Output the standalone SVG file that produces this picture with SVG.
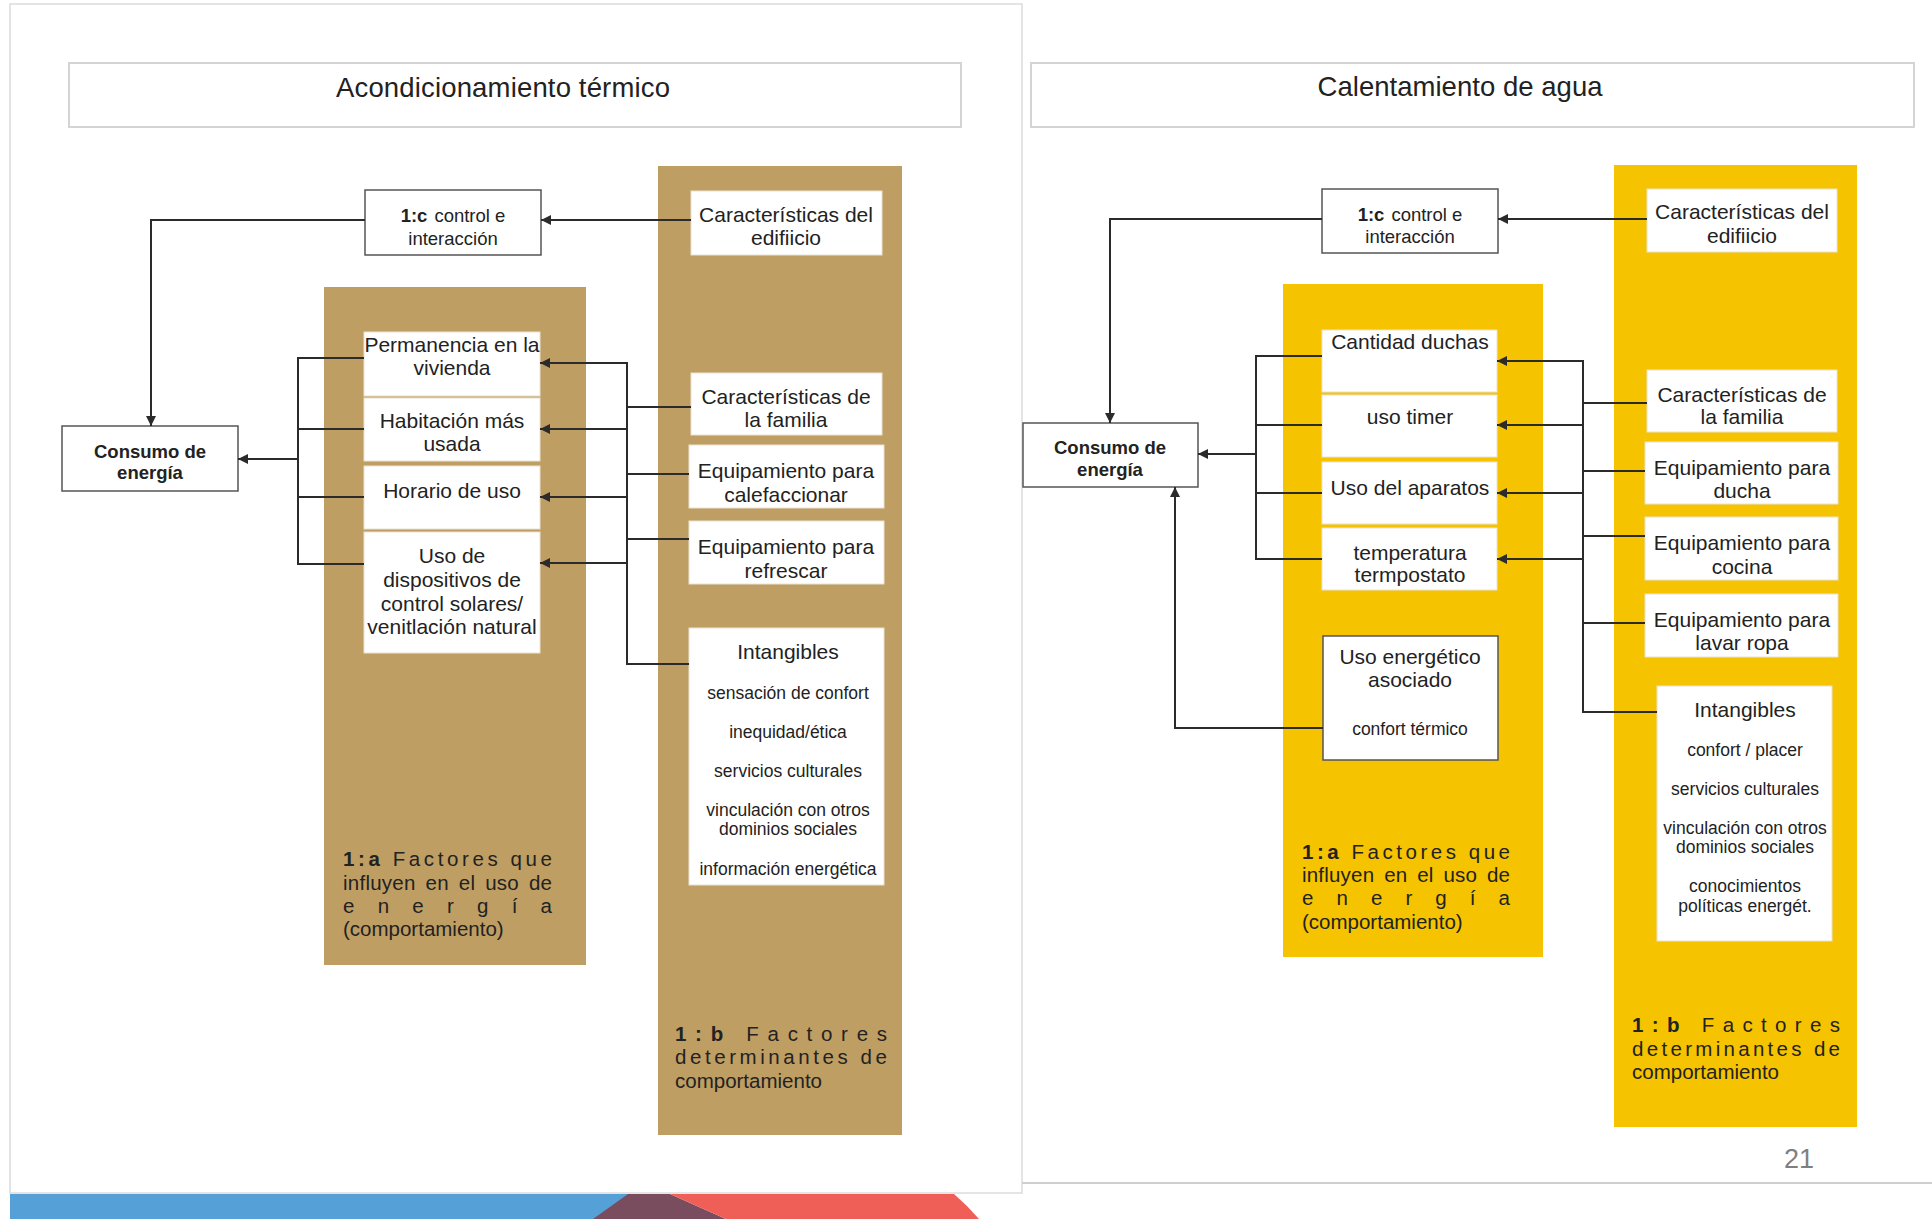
<svg xmlns="http://www.w3.org/2000/svg" width="1932" height="1219" viewBox="0 0 1932 1219">
<style>
.t{font-family:"Liberation Sans",Arial,sans-serif;font-size:21px;fill:#222;text-anchor:middle}
.s{font-size:17.5px}
.b{font-weight:bold;font-size:18.5px}
.ttl{font-size:27.5px}
.j{font-family:"Liberation Sans",Arial,sans-serif;font-size:20.5px;fill:#222;text-anchor:start}
.ib{fill:#fff;stroke:#e9e2d2;stroke-width:1}
.ob{fill:#fff;stroke:#555;stroke-width:1.5}
.hb{fill:#fff;stroke:#d4d4d4;stroke-width:2}
.tan{fill:#BF9E63}
.yel{fill:#F5C300}
.c{fill:none;stroke:#2b2b2b;stroke-width:2}
</style>
<defs>
<marker id="ah" markerUnits="userSpaceOnUse" markerWidth="10" markerHeight="10" refX="10" refY="5" orient="auto">
<path d="M0,0 L10,5 L0,10 z" fill="#2b2b2b"/>
</marker>
</defs>
<rect x="0" y="0" width="1932" height="1219" fill="#fff"/>
<g id="frame">
<rect x="10" y="4" width="1012" height="1189" fill="#fff" stroke="#dcdcdc" stroke-width="1.5"/>
<line x1="1022" y1="1183" x2="1932" y2="1183" stroke="#cfcfcf" stroke-width="2"/>
<rect x="10" y="1194" width="640" height="25" fill="#55A0D7"/>
<polygon points="628,1194 670,1194 726,1219 593,1219" fill="#7A4D5E"/>
<path d="M670,1194 L954,1194 Q968,1206 979,1219 L726,1219 z" fill="#EF5F57"/>
<text x="1799" y="1168" style="font-family:'Liberation Sans',Arial,sans-serif;font-size:27px;fill:#7f7f7f;text-anchor:middle">21</text>
</g>

<!-- LEFT PANEL -->
<g id="title-left"><rect class="hb" x="69" y="63" width="892" height="64"/><text class="t ttl" x="503" y="97" textLength="334">Acondicionamiento térmico</text></g>
<g id="col-1b-left"><rect class="tan" x="658" y="166" width="244" height="969"/>
<text class="j" x="675" y="1041" textLength="212" lengthAdjust="spacing"><tspan font-weight="bold">1:b</tspan> Factores</text>
<text class="j" x="675" y="1064" textLength="212" lengthAdjust="spacing">determinantes de</text>
<text class="j" x="675" y="1088">comportamiento</text></g>
<g id="col-1a-left"><rect class="tan" x="324" y="287" width="262" height="678"/>
<text class="j" x="343" y="866" textLength="209" lengthAdjust="spacing"><tspan font-weight="bold">1:a</tspan> Factores que</text>
<text class="j" x="343" y="890" textLength="209" lengthAdjust="spacing" word-spacing="4">influyen en el uso de</text>
<text class="j" x="343" y="913" textLength="209" lengthAdjust="spacing">energía</text>
<text class="j" x="343" y="936">(comportamiento)</text></g>
<g id="ctrl-left"><rect class="ob" x="365" y="190" width="176" height="65"/><text class="t b" x="453" y="222"><tspan>1:c</tspan><tspan font-weight="normal" dx="7">control e</tspan></text><text class="t" style="font-size:18.5px" x="453" y="245">interacción</text></g>
<g id="consumo-left"><rect class="ob" x="62" y="426" width="176" height="65"/><text class="t b" x="150" y="458">Consumo de</text><text class="t b" x="150" y="479">energía</text></g>
<g id="permanencia"><rect class="ib" x="364" y="332" width="176" height="64"/><text class="t" x="452" y="352">Permanencia en la</text><text class="t" x="452" y="375">vivienda</text></g>
<g id="habitacion"><rect class="ib" x="364" y="398" width="176" height="63"/><text class="t" x="452" y="428">Habitación más</text><text class="t" x="452" y="451">usada</text></g>
<g id="horario"><rect class="ib" x="364" y="466" width="176" height="63"/><text class="t" x="452" y="498">Horario de uso</text></g>
<g id="dispositivos"><rect class="ib" x="364" y="532" width="176" height="121"/><text class="t" x="452" y="563">Uso de</text><text class="t" x="452" y="587">dispositivos de</text><text class="t" x="452" y="611">control  solares/</text><text class="t" x="452" y="634">venitlación natural</text></g>
<g id="edificio-left"><rect class="ib" x="691" y="191" width="191" height="64"/><text class="t" x="786" y="222">Características del</text><text class="t" x="786" y="245">edifiicio</text></g>
<g id="familia-left"><rect class="ib" x="691" y="373" width="191" height="62"/><text class="t" x="786" y="404">Características de</text><text class="t" x="786" y="427">la familia</text></g>
<g id="calefaccionar"><rect class="ib" x="689" y="445" width="195" height="63"/><text class="t" x="786" y="478">Equipamiento para</text><text class="t" x="786" y="502">calefaccionar</text></g>
<g id="refrescar"><rect class="ib" x="689" y="521" width="195" height="63"/><text class="t" x="786" y="554">Equipamiento para</text><text class="t" x="786" y="578">refrescar</text></g>
<g id="intangibles-left"><rect class="ib" x="689" y="628" width="195" height="257"/><text class="t" x="788" y="659">Intangibles</text>
<text class="t s" x="788" y="699">sensación de confort</text><text class="t s" x="788" y="738">inequidad/ética</text><text class="t s" x="788" y="777">servicios culturales</text><text class="t s" x="788" y="816">vinculación con otros</text><text class="t s" x="788" y="835">dominios sociales</text><text class="t s" x="788" y="875">información energética</text></g>

<!-- RIGHT PANEL -->
<g id="title-right"><rect class="hb" x="1031" y="63" width="883" height="64"/><text class="t ttl" x="1460" y="96" textLength="285">Calentamiento de agua</text></g>
<g id="col-1b-right"><rect class="yel" x="1614" y="165" width="243" height="962"/>
<text class="j" x="1632" y="1032" textLength="208" lengthAdjust="spacing"><tspan font-weight="bold">1:b</tspan> Factores</text>
<text class="j" x="1632" y="1056" textLength="208" lengthAdjust="spacing">determinantes de</text>
<text class="j" x="1632" y="1079">comportamiento</text></g>
<g id="col-1a-right"><rect class="yel" x="1283" y="284" width="260" height="673"/>
<text class="j" x="1302" y="859" textLength="208" lengthAdjust="spacing"><tspan font-weight="bold">1:a</tspan> Factores que</text>
<text class="j" x="1302" y="882" textLength="208" lengthAdjust="spacing" word-spacing="4">influyen en el uso de</text>
<text class="j" x="1302" y="905" textLength="208" lengthAdjust="spacing">energía</text>
<text class="j" x="1302" y="929">(comportamiento)</text></g>
<g id="ctrl-right"><rect class="ob" x="1322" y="189" width="176" height="64"/><text class="t b" x="1410" y="221"><tspan>1:c</tspan><tspan font-weight="normal" dx="7">control e</tspan></text><text class="t" style="font-size:18.5px" x="1410" y="243">interacción</text></g>
<g id="consumo-right"><rect class="ob" x="1023" y="423" width="175" height="64"/><text class="t b" x="1110" y="454">Consumo de</text><text class="t b" x="1110" y="476">energía</text></g>
<g id="duchas"><rect class="ib" x="1322" y="330" width="175" height="62"/><text class="t" x="1410" y="349">Cantidad duchas</text></g>
<g id="timer"><rect class="ib" x="1322" y="395" width="175" height="62"/><text class="t" x="1410" y="424">uso timer</text></g>
<g id="aparatos"><rect class="ib" x="1322" y="462" width="175" height="62"/><text class="t" x="1410" y="495">Uso del aparatos</text></g>
<g id="termostato"><rect class="ib" x="1322" y="528" width="175" height="62"/><text class="t" x="1410" y="560">temperatura</text><text class="t" x="1410" y="582">termpostato</text></g>
<g id="uso-energetico"><rect class="ob" x="1323" y="636" width="175" height="124"/><text class="t" x="1410" y="664">Uso energético</text><text class="t" x="1410" y="687">asociado</text><text class="t s" x="1410" y="735">confort térmico</text></g>
<g id="edificio-right"><rect class="ib" x="1647" y="189" width="190" height="63"/><text class="t" x="1742" y="219">Características del</text><text class="t" x="1742" y="243">edifiicio</text></g>
<g id="familia-right"><rect class="ib" x="1647" y="370" width="190" height="62"/><text class="t" x="1742" y="402">Características de</text><text class="t" x="1742" y="424">la familia</text></g>
<g id="ducha"><rect class="ib" x="1645" y="442" width="193" height="62"/><text class="t" x="1742" y="475">Equipamiento para</text><text class="t" x="1742" y="498">ducha</text></g>
<g id="cocina"><rect class="ib" x="1645" y="517" width="193" height="63"/><text class="t" x="1742" y="550">Equipamiento para</text><text class="t" x="1742" y="574">cocina</text></g>
<g id="lavar"><rect class="ib" x="1645" y="594" width="193" height="63"/><text class="t" x="1742" y="627">Equipamiento para</text><text class="t" x="1742" y="650">lavar ropa</text></g>
<g id="intangibles-right"><rect class="ib" x="1657" y="686" width="175" height="255"/><text class="t" x="1745" y="717">Intangibles</text>
<text class="t s" x="1745" y="756">confort / placer</text><text class="t s" x="1745" y="795">servicios culturales</text><text class="t s" x="1745" y="834">vinculación con otros</text><text class="t s" x="1745" y="853">dominios sociales</text><text class="t s" x="1745" y="892">conocimientos</text><text class="t s" x="1745" y="912">políticas energét.</text></g>

<g id="connectors">
<!-- left -->
<line class="c" x1="691" y1="220" x2="541" y2="220" marker-end="url(#ah)"/>
<polyline class="c" points="365,220 151,220 151,426" marker-end="url(#ah)"/>
<line class="c" x1="298" y1="358" x2="298" y2="564"/>
<line class="c" x1="364" y1="358" x2="297" y2="358"/>
<line class="c" x1="364" y1="429" x2="298" y2="429"/>
<line class="c" x1="364" y1="497" x2="298" y2="497"/>
<line class="c" x1="364" y1="564" x2="297" y2="564"/>
<line class="c" x1="298" y1="459" x2="238" y2="459" marker-end="url(#ah)"/>
<line class="c" x1="627" y1="363" x2="627" y2="664"/>
<line class="c" x1="628" y1="363" x2="540" y2="363" marker-end="url(#ah)"/>
<line class="c" x1="627" y1="429" x2="540" y2="429" marker-end="url(#ah)"/>
<line class="c" x1="627" y1="497" x2="540" y2="497" marker-end="url(#ah)"/>
<line class="c" x1="627" y1="563" x2="540" y2="563" marker-end="url(#ah)"/>
<line class="c" x1="691" y1="407" x2="627" y2="407"/>
<line class="c" x1="689" y1="474" x2="627" y2="474"/>
<line class="c" x1="689" y1="539" x2="627" y2="539"/>
<polyline class="c" points="689,664 626,664"/>
<!-- right -->
<line class="c" x1="1647" y1="219" x2="1498" y2="219" marker-end="url(#ah)"/>
<polyline class="c" points="1322,219 1110,219 1110,423" marker-end="url(#ah)"/>
<line class="c" x1="1256" y1="356" x2="1256" y2="559"/>
<line class="c" x1="1322" y1="356" x2="1255" y2="356"/>
<line class="c" x1="1322" y1="425" x2="1256" y2="425"/>
<line class="c" x1="1322" y1="493" x2="1256" y2="493"/>
<line class="c" x1="1322" y1="559" x2="1255" y2="559"/>
<line class="c" x1="1256" y1="454" x2="1198" y2="454" marker-end="url(#ah)"/>
<line class="c" x1="1583" y1="361" x2="1583" y2="712"/>
<line class="c" x1="1584" y1="361" x2="1497" y2="361" marker-end="url(#ah)"/>
<line class="c" x1="1583" y1="425" x2="1497" y2="425" marker-end="url(#ah)"/>
<line class="c" x1="1583" y1="493" x2="1497" y2="493" marker-end="url(#ah)"/>
<line class="c" x1="1583" y1="559" x2="1497" y2="559" marker-end="url(#ah)"/>
<line class="c" x1="1647" y1="403" x2="1583" y2="403"/>
<line class="c" x1="1645" y1="471" x2="1583" y2="471"/>
<line class="c" x1="1645" y1="536" x2="1583" y2="536"/>
<line class="c" x1="1645" y1="623" x2="1583" y2="623"/>
<line class="c" x1="1657" y1="712" x2="1582" y2="712"/>
<polyline class="c" points="1323,728 1175,728 1175,487" marker-end="url(#ah)"/>
</g>
</svg>
